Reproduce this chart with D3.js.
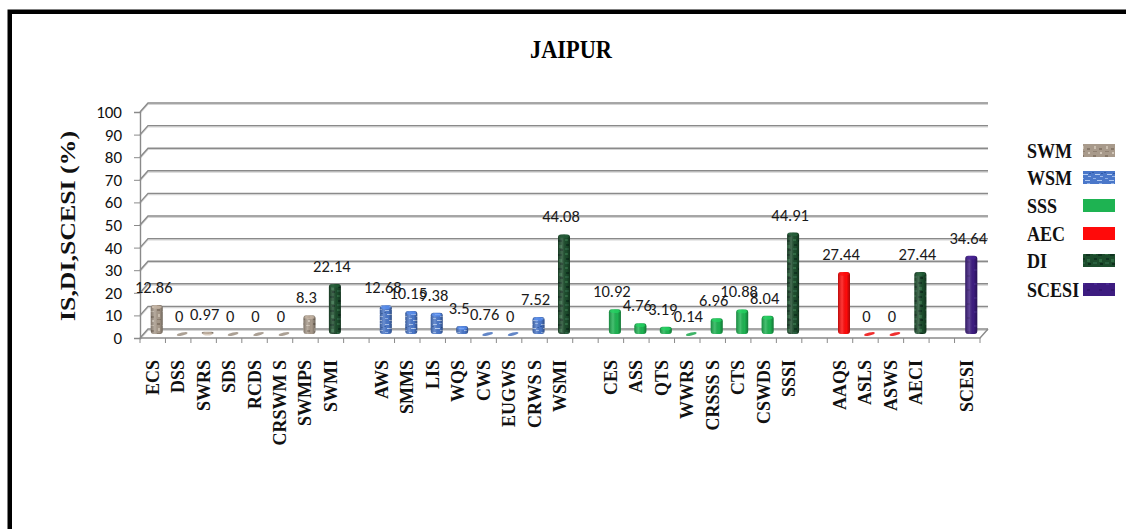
<!DOCTYPE html>
<html><head><meta charset="utf-8">
<script src="https://cdn.jsdelivr.net/npm/d3@7"></script>
<style>
html,body{margin:0;padding:0;background:#fff;}
svg{display:block;}
</style></head><body>
<svg id="chart" width="1126" height="529"></svg>
<script>
// Chart content
const chartTitle = "JAIPUR";
const yAxisTitle = "IS,DI,SCESI (%)";

// Categories along the x axis (null = empty spacer slot between groups)
const categories = [
  "ECS","DSS","SWRS","SDS","RCDS","CRSWM S","SWMPS","SWMI", null,
  "AWS","SMMS","LIS","WQS","CWS","EUGWS","CRWS S","WSMI", null,
  "CES","ASS","QTS","WWRS","CRSSS S","CTS","CSWDS","SSSI", null,
  "AAQS","ASLS","ASWS","AECI", null,
  "SCESI"
];
// Index values (%)
const values = [
  12.86, 0, 0.97, 0, 0, 0, 8.3, 22.14, null,
  12.68, 10.15, 9.38, 3.5, 0.76, 0, 7.52, 44.08, null,
  10.92, 4.76, 3.19, 0.14, 6.96, 10.88, 8.04, 44.91, null,
  27.44, 0, 0, 27.44, null,
  34.64
];
// Series each category belongs to
const seriesOf = [
  "SWM","SWM","SWM","SWM","SWM","SWM","SWM","DI", null,
  "WSM","WSM","WSM","WSM","WSM","WSM","WSM","DI", null,
  "SSS","SSS","SSS","SSS","SSS","SSS","SSS","DI", null,
  "AEC","AEC","AEC","DI", null,
  "SCESI"
];
const seriesNames = ["SWM","WSM","SSS","AEC","DI","SCESI"];
const seriesColors = ["#a89a8b","#4c79cb","#1eb352","#ff0a0a","#1d4f2e","#3d1c80"];
const yTicks = [0,10,20,30,40,50,60,70,80,90,100];

const svg = d3.select("#chart");
const color = d3.scaleOrdinal().domain(seriesNames).range(seriesColors);

// Plot geometry (front plane) and 3D depth offset
const x = d3.scaleBand().domain(d3.range(categories.length)).range([140, 980]).padding(0);
const y = d3.scaleLinear().domain([0, 100]).range([338, 112]);
const dX = 8, dY = -9;
const barW = 12;
const numFont = "Carlito, Calibri, 'Open Sans', sans-serif";
const serifFont = "'Liberation Serif','Times New Roman',serif";

// ---- textures ----
const defs = svg.append("defs");
function texture(id, base, marks) {
  const p = defs.append("pattern").attr("id", id)
    .attr("patternUnits", "userSpaceOnUse").attr("width", 12).attr("height", 14);
  p.append("rect").attr("width", 12).attr("height", 14).attr("fill", base);
  marks.forEach(m => p.append("rect")
    .attr("x", m[0]).attr("y", m[1]).attr("width", m[2]).attr("height", m[3])
    .attr("fill", m[4]));
}
texture("tex-SWM", "#a89a8b", [
  [1,1,3,2,"#877869"],[6,3,4,1,"#cbbfb0"],[2,6,2,3,"#cbbfb0"],[7,8,3,2,"#877869"],
  [1,11,4,1,"#8f8071"],[8,12,2,2,"#d2c7b9"]
]);
texture("tex-WSM", "#4a77c9", [
  [1,2,4,1,"#a9c3ee"],[7,1,3,1,"#8fb0e6"],[3,6,5,1,"#b8cff3"],[8,8,3,1,"#9db9ea"],
  [1,10,3,1,"#8fb0e6"],[5,12,5,1,"#b0c9f0"],[0,4,2,1,"#2f5aa8"],[9,5,2,1,"#2f5aa8"]
]);
texture("tex-DI", "#1c4c2c", [
  [1,1,3,2,"#2f6a42"],[6,2,4,2,"#0f3420"],[2,6,3,2,"#0f3420"],[7,7,3,3,"#2e6941"],
  [1,10,4,2,"#2a6140"],[8,11,3,2,"#0e2f1c"]
]);
texture("tex-SSS", "#1eb352", []);
texture("tex-AEC", "#ff0a0a", []);
texture("tex-SCESI", "#3d1c80", [
  [2,3,3,2,"#4a2a92"],[7,9,3,2,"#33166e"]
]);
const fillOf = s => `url(#tex-${s})`;

// Horizontal cylinder shading
const shade = defs.append("linearGradient").attr("id", "shade")
  .attr("x1", "0").attr("x2", "1").attr("y1", "0").attr("y2", "0");
shade.append("stop").attr("offset", "0%").attr("stop-color", "#000").attr("stop-opacity", 0.25);
shade.append("stop").attr("offset", "35%").attr("stop-color", "#fff").attr("stop-opacity", 0.18);
shade.append("stop").attr("offset", "70%").attr("stop-color", "#000").attr("stop-opacity", 0.0);
shade.append("stop").attr("offset", "100%").attr("stop-color", "#000").attr("stop-opacity", 0.35);

// ---- outer frame ----
svg.append("rect").attr("x", 9.75).attr("y", 11.75).attr("width", 1300).attr("height", 700)
  .attr("fill", "none").attr("stroke", "#000").attr("stroke-width", 4.5);

// ---- title ----
svg.append("text").attr("x", 571).attr("y", 58).attr("text-anchor", "middle")
  .attr("font-family", serifFont).attr("font-weight", "bold")
  .attr("font-size", 25).attr("textLength", 82).attr("lengthAdjust", "spacingAndGlyphs")
  .attr("fill", "#000").text(chartTitle);

// ---- walls and gridlines ----
const x0 = x.range()[0], x1 = x.range()[1];
const grid = svg.append("g");
yTicks.forEach(t => {
  const yf = y(t), yb = y(t) + dY;
  grid.append("path")
    .attr("d", `M${x0},${yf + 1.3}L${x0 + dX},${yb + 1.3}L${x1 + dX},${yb + 1.3}`)
    .attr("fill", "none").attr("stroke", "#d4d4d4").attr("stroke-width", 1.2);
  grid.append("path")
    .attr("d", `M${x0},${yf}L${x0 + dX},${yb}L${x1 + dX},${yb}`)
    .attr("fill", "none").attr("stroke", "#8a8a8a").attr("stroke-width", 1.4);
});
// floor front edge and right edge
grid.append("path").attr("d", `M${x0},${y(0)}L${x1},${y(0)}L${x1 + dX},${y(0) + dY}`)
  .attr("fill", "none").attr("stroke", "#8a8a8a").attr("stroke-width", 1.4);

// y axis
const yAxis = d3.axisLeft(y).tickValues(yTicks).tickSize(6).tickPadding(12);
const gy = svg.append("g").attr("transform", `translate(${x0},0)`).call(yAxis);
gy.select(".domain").attr("stroke", "#8a8a8a").attr("stroke-width", 1.4);
gy.selectAll(".tick line").attr("stroke", "#8a8a8a");
gy.selectAll(".tick text")
  .attr("font-family", numFont)
  .attr("font-size", 17).attr("fill", "#111");

// x axis ticks at band boundaries
const gx = svg.append("g");
d3.range(categories.length + 1).forEach(i => {
  const xx = x0 + i * x.bandwidth();
  gx.append("line").attr("x1", xx).attr("x2", xx).attr("y1", y(0)).attr("y2", y(0) + 5)
    .attr("stroke", "#8a8a8a").attr("stroke-width", 1);
});

// x labels
const labelIdx = d3.range(categories.length).filter(i => categories[i] !== null);
svg.append("g").selectAll("text").data(labelIdx).join("text")
  .attr("transform", i => `translate(${x(i) + x.bandwidth() / 2 + 6},360) rotate(-90)`)
  .attr("text-anchor", "end")
  .attr("font-family", serifFont).attr("font-weight", "bold")
  .attr("font-size", 18).attr("fill", "#111")
  .text(i => categories[i]);

// ---- bars ----
const base = y(0) - 4;
const barIdx = d3.range(values.length).filter(i => values[i] !== null);
const bars = svg.append("g");
barIdx.forEach(i => {
  const v = values[i], s = seriesOf[i];
  const cx = x(i) + x.bandwidth() / 2 + 4;
  const h = y(0) - y(v);
  if (h < 2) {
    bars.append("ellipse").attr("cx", cx).attr("cy", base)
      .attr("rx", 5.5).attr("ry", 1.5)
      .attr("transform", `rotate(-14,${cx},${base})`)
      .attr("fill", d3.color(color(s)).darker(0.2)).attr("opacity", 0.85);
    return;
  }
  const top = base - h;
  bars.append("rect").attr("x", cx - barW / 2).attr("y", top).attr("width", barW).attr("height", h)
    .attr("rx", 3).attr("fill", fillOf(s));
  bars.append("rect").attr("x", cx - barW / 2).attr("y", top).attr("width", barW).attr("height", h)
    .attr("rx", 3).attr("fill", "url(#shade)");
  bars.append("ellipse").attr("cx", cx).attr("cy", top + 2).attr("rx", barW / 2 - 1).attr("ry", 1.8)
    .attr("fill", d3.color(color(s)).brighter(0.5)).attr("opacity", 0.7);
});

// value labels
svg.append("g").selectAll("text").data(barIdx).join("text")
  .attr("x", i => x(i) + x.bandwidth() / 2 + 1)
  .attr("y", i => base - (y(0) - y(values[i])) - 12)
  .attr("text-anchor", "middle")
  .attr("font-family", numFont)
  .attr("font-size", 16.5).attr("fill", "#1a1a1a")
  .text(i => values[i]);

// ---- y axis title ----
svg.append("text").attr("transform", "translate(75,226) rotate(-90)")
  .attr("text-anchor", "middle")
  .attr("font-family", serifFont).attr("font-weight", "bold")
  .attr("font-size", 21).attr("textLength", 190).attr("lengthAdjust", "spacingAndGlyphs")
  .attr("fill", "#111").text(yAxisTitle);

// ---- legend ----
const legendY = [158, 185, 213, 241, 268, 297];
const legend = svg.append("g");
seriesNames.forEach((s, k) => {
  legend.append("text").attr("transform", `translate(1027,${legendY[k]}) scale(0.86,1)`)
    .attr("font-family", serifFont).attr("font-weight", "bold")
    .attr("font-size", 21).attr("fill", "#111").text(s);
  legend.append("rect").attr("x", 1083).attr("y", legendY[k] - 14).attr("width", 32).attr("height", 13)
    .attr("fill", fillOf(s));
});
</script>
</body></html>
